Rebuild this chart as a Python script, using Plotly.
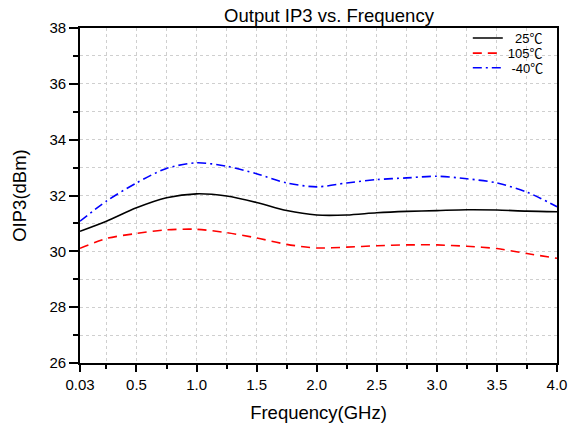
import plotly.graph_objects as go

freq = [0.03, 0.25, 0.5, 0.75, 1.0, 1.25, 1.5, 1.75, 2.0, 2.25, 2.5, 2.75, 3.0, 3.25, 3.5, 3.75, 4.0]
oip3_25 = [30.72, 31.08, 31.56, 31.92, 32.06, 31.98, 31.75, 31.46, 31.30, 31.30, 31.38, 31.43, 31.46, 31.49, 31.48, 31.44, 31.42]
oip3_105 = [30.11, 30.46, 30.64, 30.77, 30.79, 30.67, 30.48, 30.25, 30.12, 30.15, 30.20, 30.23, 30.23, 30.18, 30.10, 29.92, 29.75]
oip3_m40 = [31.08, 31.80, 32.45, 32.97, 33.17, 33.05, 32.78, 32.45, 32.31, 32.45, 32.57, 32.63, 32.69, 32.60, 32.45, 32.12, 31.60]

names = ["\u00a0\u00a025\u2103", "105\u2103", "\u00a0-40\u2103"]

x_major = [0.03, 0.5, 1.0, 1.5, 2.0, 2.5, 3.0, 3.5, 4.0]
x_major_text = ["0.03", "0.5", "1.0", "1.5", "2.0", "2.5", "3.0", "3.5", "4.0"]
x_minor = [0.25, 0.75, 1.25, 1.75, 2.25, 2.75, 3.25, 3.75]
y_major = [26, 28, 30, 32, 34, 36, 38]
y_minor = [27, 29, 31, 33, 35, 37]

FONT = "Arial, 'Liberation Sans', 'Noto Sans CJK SC', sans-serif"

fig = go.Figure()
fig.add_trace(go.Scatter(x=freq, y=oip3_25, mode="lines", name=names[0], legend="legend",
                         line=dict(color="black", width=1.6, shape="spline", smoothing=0.8)))
fig.add_trace(go.Scatter(x=freq, y=oip3_105, mode="lines", name=names[1], legend="legend2",
                         line=dict(color="#ff0000", width=1.6, dash="9px,6px", shape="spline", smoothing=0.8)))
fig.add_trace(go.Scatter(x=freq, y=oip3_m40, mode="lines", name=names[2], legend="legend3",
                         line=dict(color="#0000ff", width=1.6, dash="9px,4px,2px,4px", shape="spline", smoothing=0.8)))

grid = dict(showgrid=True, gridcolor="#cfcfcf", griddash="dot", gridwidth=1)


def leg(yc):
    return dict(x=0.813, xanchor="left", y=yc, yanchor="middle", bgcolor="rgba(0,0,0,0)",
                font=dict(size=13, family=FONT), borderwidth=0)


fig.update_layout(
    width=569, height=423,
    margin=dict(l=80, r=12, t=28, b=60, autoexpand=False),
    paper_bgcolor="white", plot_bgcolor="white",
    font=dict(family=FONT, color="black", size=15),
    title=dict(text="Output IP3 vs. Frequency", x=329/569, xanchor="center", xref="container",
               y=1 - 16/423, yanchor="middle", font=dict(size=18.5, family=FONT, color="black")),
    showlegend=True,
    legend=leg(0.970),
    legend2=leg(0.925),
    legend3=leg(0.881),
    xaxis=dict(range=[0.03, 4.0], tickmode="array", tickvals=x_major, ticktext=x_major_text,
               ticks="outside", ticklen=7, tickwidth=1.5, tickcolor="black",
               showline=True, linecolor="black", linewidth=1.8, mirror=True,
               minor=dict(tickvals=x_minor, ticks="outside", ticklen=4, tickwidth=1.5, tickcolor="black",
                          showgrid=True, gridcolor="#cfcfcf", griddash="dot"),
               title=dict(text="Frequency(GHz)", font=dict(size=18.5, family=FONT), standoff=14),
               tickfont=dict(size=15), zeroline=False, automargin=False, **grid),
    yaxis=dict(range=[26, 38], tickmode="array", tickvals=y_major,
               ticks="outside", ticklen=9, tickwidth=1.5, tickcolor="black",
               showline=True, linecolor="black", linewidth=1.8, mirror=True,
               minor=dict(tickvals=y_minor, ticks="outside", ticklen=5, tickwidth=1.5, tickcolor="black",
                          showgrid=True, gridcolor="#cfcfcf", griddash="dot"),
               title=dict(text="OIP3(dBm)", font=dict(size=18.5, family=FONT), standoff=18),
               tickfont=dict(size=15), zeroline=False, automargin=False, **grid),
)

fig.write_html("out.html")
